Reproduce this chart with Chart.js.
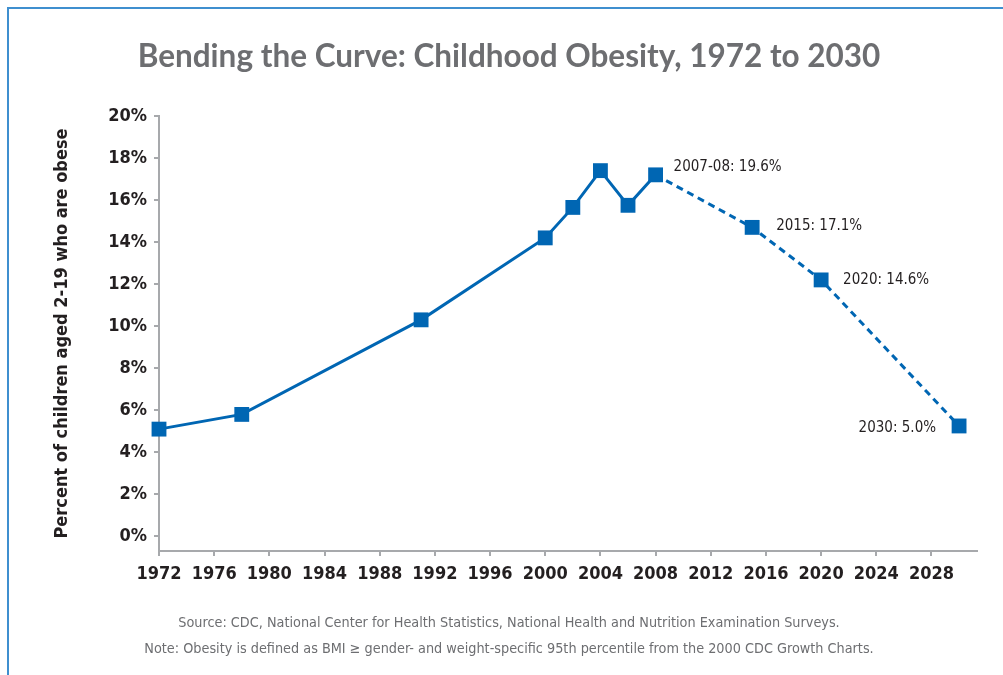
<!DOCTYPE html>
<html>
<head>
<meta charset="utf-8">
<script src="https://cdn.jsdelivr.net/npm/chart.js@4/dist/chart.umd.min.js"></script>
<style>
  html, body { margin: 0; padding: 0; background: #fff; }
  body { width: 1003px; height: 675px; position: relative; overflow: hidden; }
  .frame { position: absolute; left: 7px; top: 7px; width: 1010px; height: 690px; border: 2px solid #3f8fcf; box-sizing: border-box; }
  #wrap { position: absolute; left: 0; top: 0; width: 1003px; height: 675px; }
</style>
</head>
<body>
<div class="frame"></div>
<div id="wrap"><canvas id="line-chart"></canvas></div>
<script>
// survey years and measured / projected obesity share (%)
const years = [1972, 1978, 1991, 2000, 2002, 2004, 2006, 2008, 2015, 2020, 2030];
const obesityPct = [5.1, 5.8, 10.3, 14.2, 15.65, 17.4, 15.75, 17.2, 14.7, 12.2, 5.25];
const pointLabels = [null, null, null, null, null, null, null, '2007-08: 19.6%', '2015: 17.1%', '2020: 14.6%', '2030: 5.0%'];
const projectionStart = 2008;

const xTickYears = [1972, 1976, 1980, 1984, 1988, 1992, 1996, 2000, 2004, 2008, 2012, 2016, 2020, 2024, 2028];
const yTickPct = [0, 2, 4, 6, 8, 10, 12, 14, 16, 18, 20];

const titleText = 'Bending the Curve: Childhood Obesity, 1972 to 2030';
const yAxisTitle = 'Percent of children aged 2-19 who are obese';
const footnotes = [
    'Source: CDC, National Center for Health Statistics, National Health and Nutrition Examination Surveys.',
    'Note: Obesity is defined as BMI \u2265 gender- and weight-specific 95th percentile from the 2000 CDC Growth Charts.'
];

const narrow = "'DejaVu Sans Condensed', Roboto, sans-serif";
const blue = '#0066b3';

// text next to the last few markers
const pointLabelPlugin = {
    id: 'pointLabels',
    afterDatasetsDraw(chart) {
        const ctx = chart.ctx;
        const meta = chart.getDatasetMeta(0);
        const offsets = {7: [18, -8, 'left'], 8: [24, -1, 'left'], 9: [22, 0, 'left'], 10: [-23, 2, 'right']};
        ctx.save();
        ctx.font = '15px ' + narrow;
        ctx.fillStyle = '#231f20';
        ctx.textBaseline = 'middle';
        pointLabels.forEach((txt, i) => {
            if (!txt) return;
            const p = meta.data[i];
            const o = offsets[i];
            ctx.textAlign = o[2];
            ctx.fillText(txt, p.x + o[0], p.y + o[1]);
        });
        ctx.restore();
    }
};

const data = {
    datasets: [{
        data: years.map((y, i) => ({x: y, y: obesityPct[i]})),
        borderColor: blue,
        backgroundColor: blue,
        borderWidth: 3,
        pointStyle: 'rect',
        pointRadius: 10.5,
        pointBorderWidth: 0,
        pointBackgroundColor: blue,
        tension: 0,
        clip: false,
        segment: {
            borderDash: ctx => ctx.p0.parsed.x >= projectionStart ? [7, 5] : undefined
        }
    }]
};

const config = {
    type: 'line',
    data: data,
    options: {
        responsive: false,
        animation: false,
        layout: { padding: { left: 41, right: 26, top: 0, bottom: 0 } },
        plugins: {
            legend: { display: false },
            tooltip: { enabled: false },
            title: {
                display: true,
                text: titleText,
                color: '#6d6e71',
                font: { family: 'Lato', size: 31.5, weight: 'bold', lineHeight: 1.2 },
                padding: { top: 38, bottom: 40.2 }
            },
            subtitle: {
                display: true,
                position: 'bottom',
                text: footnotes,
                color: '#6d6e71',
                font: { family: narrow, size: 14.3, weight: 'normal', lineHeight: 26 / 14.3 },
                padding: { top: 0, bottom: 13 }
            }
        },
        scales: {
            x: {
                type: 'linear',
                min: 1972,
                max: 2031.3,
                afterBuildTicks: scale => { scale.ticks = xTickYears.map(v => ({value: v})); },
                afterFit: scale => { scale.height = 59; },
                grid: { drawOnChartArea: false, drawTicks: true, tickLength: 5, color: '#a7a9ac', lineWidth: 2 },
                border: { display: true, color: '#a7a9ac', width: 2 },
                ticks: {
                    color: '#231f20',
                    padding: 8,
                    maxRotation: 0,
                    autoSkip: false,
                    font: { family: narrow, size: 18, weight: 'bold' },
                    callback: v => String(v)
                }
            },
            y: {
                min: -0.7,
                max: 20,
                afterBuildTicks: scale => { scale.ticks = yTickPct.map(v => ({value: v})); },
                afterFit: scale => { scale.width = 118; },
                grid: { drawOnChartArea: false, drawTicks: true, tickLength: 5, color: '#a7a9ac', lineWidth: 2 },
                border: { display: true, color: '#a7a9ac', width: 2 },
                ticks: {
                    color: '#231f20',
                    padding: 7,
                    autoSkip: false,
                    font: { family: narrow, size: 18, weight: 'bold' },
                    callback: v => v + '%'
                },
                title: {
                    display: true,
                    text: yAxisTitle,
                    color: '#231f20',
                    font: { family: narrow, size: 18, weight: 'bold', lineHeight: 1.2 },
                    padding: { top: 11, bottom: 0 }
                }
            }
        }
    },
    plugins: [pointLabelPlugin]
};

const canvas = document.getElementById('line-chart');
canvas.width = 1003;
canvas.height = 675;
window.myLine = new Chart(canvas.getContext('2d'), config);
</script>
</body>
</html>
